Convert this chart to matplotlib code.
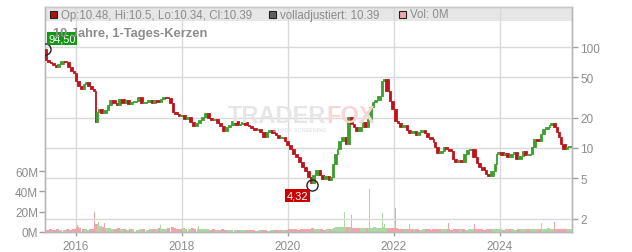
import matplotlib

matplotlib.use("Agg")
import matplotlib.pyplot as plt
import numpy as np
from matplotlib.patches import Rectangle

plt.rcParams["font.family"] = ["Liberation Sans", "DejaVu Sans"]

# Palette ---------------------------------------------------------------------
RED = "#c0141c"
GREEN = "#3c9f2f"
VOL_RED = "#f2a3ab"
VOL_GREEN = "#a9dba0"
GRID = "#d9d9d9"
TXT = "#8c8c8c"

# Daily closes, sampled roughly every 3 weeks (decimal years, EUR)
dates = [
    2015.42, 2015.46, 2015.52, 2015.56, 2015.61, 2015.65, 2015.71, 2015.78, 2015.84, 2015.90,
    2015.95, 2015.99, 2016.03, 2016.08, 2016.14, 2016.18, 2016.22, 2016.27, 2016.33, 2016.37,
    2016.39, 2016.42, 2016.46, 2016.52, 2016.58, 2016.63, 2016.69, 2016.75, 2016.80, 2016.86,
    2016.92, 2016.97, 2017.03, 2017.08, 2017.16, 2017.22, 2017.27, 2017.35, 2017.41, 2017.46,
    2017.52, 2017.58, 2017.63, 2017.69, 2017.75, 2017.82, 2017.86, 2017.92, 2017.97, 2018.03,
    2018.08, 2018.14, 2018.20, 2018.25, 2018.31, 2018.37, 2018.42, 2018.48, 2018.54, 2018.59,
    2018.65, 2018.71, 2018.76, 2018.82, 2018.88, 2018.93, 2019.01, 2019.07, 2019.12, 2019.18,
    2019.24, 2019.29, 2019.35, 2019.41, 2019.46, 2019.52, 2019.58, 2019.63, 2019.69, 2019.75,
    2019.80, 2019.86, 2019.92, 2019.97, 2020.03, 2020.08, 2020.14, 2020.20, 2020.25, 2020.31,
    2020.37, 2020.42, 2020.46, 2020.52, 2020.58, 2020.63, 2020.69, 2020.75, 2020.80, 2020.84,
    2020.88, 2020.92, 2020.95, 2021.01, 2021.07, 2021.12, 2021.18, 2021.22, 2021.27, 2021.33,
    2021.39, 2021.44, 2021.50, 2021.54, 2021.58, 2021.63, 2021.69, 2021.75, 2021.80, 2021.84,
    2021.90, 2021.95, 2022.01, 2022.05, 2022.10, 2022.16, 2022.22, 2022.27, 2022.33, 2022.39,
    2022.44, 2022.50, 2022.56, 2022.61, 2022.67, 2022.73, 2022.75, 2022.80, 2022.86, 2022.92,
    2022.97, 2023.03, 2023.09, 2023.14, 2023.20, 2023.25, 2023.31, 2023.37, 2023.42, 2023.48,
    2023.54, 2023.59, 2023.65, 2023.71, 2023.76, 2023.82, 2023.88, 2023.92, 2023.95, 2024.01,
    2024.07, 2024.12, 2024.18, 2024.24, 2024.29, 2024.35, 2024.41, 2024.46, 2024.52, 2024.58,
    2024.63, 2024.69, 2024.75, 2024.80, 2024.86, 2024.92, 2024.95, 2025.01, 2025.05, 2025.09,
    2025.13, 2025.18, 2025.24, 2025.29, 2025.35,
]
closes = [
    94.5, 74.0, 71.0, 69.0, 66.0, 63.0, 68.0, 72.6, 71.0, 64.0,
    57.8, 55.3, 46.0, 41.1, 38.4, 43.0, 45.0, 41.1, 38.4, 36.7,
    18.1, 22.7, 24.3, 22.2, 23.8, 26.7, 29.9, 27.9, 26.7, 30.6,
    27.9, 29.9, 27.3, 28.5, 29.2, 32.0, 27.9, 28.5, 29.9, 27.9,
    29.9, 28.5, 30.6, 32.0, 31.3, 27.9, 22.7, 21.7, 20.7, 21.2,
    19.4, 20.3, 18.1, 16.5, 17.7, 18.9, 20.3, 22.2, 19.8, 18.9,
    19.4, 17.7, 16.5, 14.7, 16.1, 16.9, 18.5, 16.9, 17.3, 18.1,
    16.9, 16.5, 15.8, 15.1, 15.4, 14.4, 12.9, 14.4, 15.1, 14.1,
    13.4, 12.6, 12.9, 11.7, 10.7, 9.8, 8.7, 8.1, 7.3, 6.5,
    5.9, 5.2, 4.5, 5.4, 6.05, 5.4, 4.9, 5.3, 4.8, 5.2,
    6.9, 8.7, 9.8, 11.7, 12.9, 11.0, 20.3, 17.3, 16.1, 14.7,
    16.1, 18.1, 16.1, 19.4, 25.5, 28.5, 29.9, 32.7, 46.0, 48.3,
    36.7, 29.2, 24.3, 18.5, 17.7, 16.1, 16.9, 15.1, 14.1, 14.7,
    13.4, 14.4, 15.1, 14.1, 12.9, 12.3, 11.5, 10.2, 8.9, 9.3,
    10.2, 9.8, 9.3, 7.8, 7.3, 7.6, 7.3, 8.7, 9.55, 9.8,
    8.1, 7.1, 6.5, 6.05, 5.5, 5.3, 5.9, 6.9, 8.7, 9.1,
    8.5, 8.9, 8.1, 8.7, 9.1, 7.8, 8.3, 9.3, 8.5, 8.7,
    10.2, 12.3, 11.7, 13.8, 15.4, 16.1, 16.9, 17.7, 16.1, 14.4,
    12.9, 11.0, 9.8, 10.2, 10.39,
]
# Typical volume per bar (millions)
volume = [
    2, 2, 3, 2, 2, 3, 2, 2, 3, 2,
    3, 3, 5, 4, 3, 3, 2, 3, 3, 4,
    8, 7, 6, 5, 4, 4, 3, 3, 4, 3,
    3, 2, 3, 3, 2, 3, 3, 2, 3, 3,
    3, 4, 3, 3, 4, 5, 4, 3, 3, 4,
    3, 3, 4, 3, 3, 3, 3, 3, 2, 3,
    2, 2, 3, 2, 2, 2, 2, 2, 2, 2,
    2, 2, 2, 1, 2, 2, 2, 1, 2, 2,
    2, 2, 2, 2, 3, 3, 3, 2, 3, 3,
    3, 3, 4, 3, 3, 3, 2, 3, 3, 3,
    4, 5, 5, 5, 5, 5, 5, 4, 4, 4,
    4, 4, 4, 4, 4, 5, 4, 4, 5, 4,
    4, 4, 4, 4, 3, 3, 3, 3, 3, 3,
    3, 2, 3, 3, 3, 2, 3, 3, 3, 3,
    3, 3, 2, 3, 3, 3, 3, 2, 3, 3,
    3, 3, 3, 2, 3, 3, 3, 3, 3, 3,
    2, 3, 3, 3, 2, 3, 3, 3, 3, 3,
    3, 3, 3, 3, 3, 4, 3, 3, 3, 3,
    3, 3, 3, 3, 3,
]
# Single-day volume spikes
spike_dates = [2016.03, 2016.35, 2016.40, 2016.43, 2016.54, 2017.60, 2017.93, 2018.31,
               2021.07, 2021.17, 2021.20, 2021.54, 2021.78, 2021.82, 2022.03, 2022.30,
               2023.03, 2023.52, 2024.79, 2025.03]
spike_vol = [7, 20, 12, 10, 9, 7, 11, 6, 20, 9, 17, 42, 19, 8, 24, 8, 9, 8, 9, 10]
spike_up = [False, False, True, True, False, True, True, True, True, True, False, True,
            True, True, False, True, False, False, True, False]

year_ticks = [2016, 2018, 2020, 2022, 2024]
price_ticks = [2, 5, 10, 20, 50, 100]
vol_ticks = [0, 20, 40, 60]

high_date, high_price = 2015.42, 94.50
low_date, low_price = 2020.46, 4.32

W, H = 632, 253
fig = plt.figure(figsize=(W / 100, H / 100), dpi=100, facecolor="white")
L, R, T, B = 45, 572, 8, 233
ax_vol = fig.add_axes([L / W, 1 - B / H, (R - L) / W, (B - T) / H])
ax = ax_vol.twinx()

x0, x1 = 2015.42, 2025.36
for a in (ax_vol, ax):
    a.set_xlim(x0, x1)

# ---- volume ---------------------------------------------------------------
d = np.array(dates)
c = np.array(closes)
up = np.r_[True, c[1:] >= c[:-1]]
ax_vol.bar(d, volume, width=0.055, color=np.where(up, VOL_GREEN, VOL_RED), zorder=1)
ax_vol.bar(spike_dates, spike_vol, width=0.012,
           color=[VOL_GREEN if u else VOL_RED for u in spike_up], zorder=1)
ax_vol.set_ylim(0, 222)
ax_vol.set_yticks(vol_ticks)
ax_vol.set_yticklabels([f"{v}M" for v in vol_ticks])

# header bar + vertical grid
hb = 1 - 14 / (B - T)
ax_vol.add_patch(Rectangle((0, hb), 1, 1 - hb, transform=ax_vol.transAxes,
                           facecolor="#e6e6e6", edgecolor="none", zorder=0.2))
ax_vol.axhline(hb, color="#cfcfcf", lw=0.8, zorder=0.3) if False else None
for yr in year_ticks:
    ax_vol.axvline(yr, color=GRID, lw=1.0, zorder=0.5)

# ---- price candles (open = previous close) ---------------------------------
ax.set_yscale("log")
ax.set_ylim(1.473, 249)
for t in price_ticks:
    ax.axhline(t, color=GRID, lw=1.0, zorder=0.5)
opens = c[:-1]
body = c[1:] - opens
colors = np.where(body >= 0, GREEN, RED)
ax.bar(d[:-1], body, bottom=opens, width=np.diff(d), align="edge",
       color=colors, linewidth=0.6, edgecolor=colors, zorder=3)

ax.plot([high_date], [high_price], "o", ms=8, mfc="none", mec="#222222", mew=1, zorder=5)
ax.plot([low_date], [low_price], "o", ms=8, mfc="none", mec="#222222", mew=1, zorder=5)
ax.annotate("94,50", (high_date, high_price), xytext=(17, 11), textcoords="offset pixels",
            ha="center", va="center", color="white", fontsize=8,
            bbox=dict(boxstyle="square,pad=0.15", fc="#119911", ec="none"), zorder=6)
ax.annotate("4,32", (low_date, low_price), xytext=(-15, -11), textcoords="offset pixels",
            ha="center", va="center", color="white", fontsize=8,
            bbox=dict(boxstyle="square,pad=0.15", fc="#cc0000", ec="none"), zorder=6)

ax.set_yticks(price_ticks)
ax.set_yticklabels([str(t) for t in price_ticks])
ax.minorticks_off()
ax.yaxis.set_minor_locator(matplotlib.ticker.NullLocator())
ax_vol.set_xticks(year_ticks)
ax_vol.set_xticklabels([str(y) for y in year_ticks])

for a in (ax_vol, ax):
    for s in a.spines.values():
        s.set_color("#b8b8b8")
        s.set_linewidth(1.0)
    a.spines["top"].set_color("#c8c8c8")
    a.tick_params(colors="#a0a0a0", labelcolor=TXT, labelsize=8.5, length=4, width=1)
ax_vol.tick_params(axis="y", pad=1)
ax.tick_params(axis="y", pad=2)
ax_vol.tick_params(axis="x", length=3, pad=3)

# ---- texts ------------------------------------------------------------------
def px(x, y):
    return x / W, 1 - y / H

ytop = 15.5
for x, col in [(50, "#b01010"), (269, "#606060"), (399, "#f0a8b0")]:
    fig.patches.append(Rectangle(px(x, ytop + 3.5), 7 / W, 7 / H, transform=fig.transFigure,
                                 facecolor=col, edgecolor="#222222", lw=0.8, figure=fig))
fig.text(*px(61, ytop), "Op:10.48, Hi:10.5, Lo:10.34, Cl:10.39", color=TXT, fontsize=8.3, va="center")
fig.text(*px(280, ytop), "volladjustiert: 10.39", color=TXT, fontsize=8.3, va="center")
fig.text(*px(410, ytop), "Vol: 0M", color=TXT, fontsize=8.3, va="center")
fig.text(*px(53, 33.5), "10 Jahre, 1-Tages-Kerzen", color=TXT, fontsize=9.3,
         fontweight="bold", va="center")

# watermark
fig.text(*px(326, 117), "TRADER", color="#e6e6e6", fontsize=17, fontweight="bold",
         ha="right", va="center", zorder=0)
fig.text(*px(326, 117), "FOX", color="#f8d6d6", fontsize=17, fontweight="bold",
         ha="left", va="center", zorder=0)
fig.text(*px(300, 131), "STOCK SCREENING", color="#e6e6e6", fontsize=4, fontweight="bold",
         ha="center", va="center", zorder=0)

fig.savefig("out.png", dpi=100, facecolor="white")
